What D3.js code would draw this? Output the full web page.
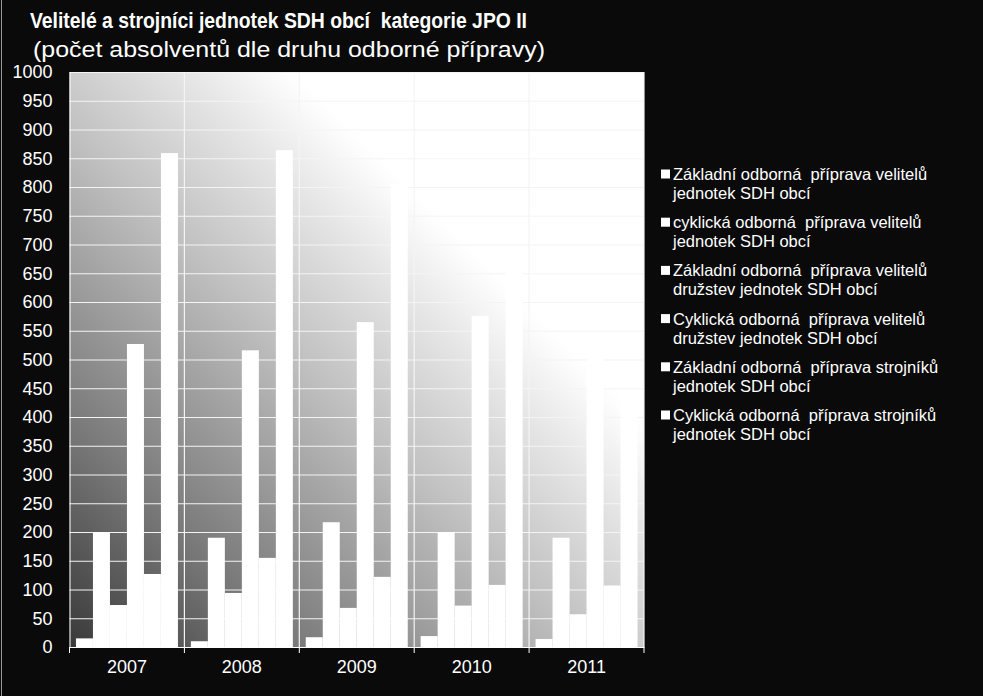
<!DOCTYPE html>
<html>
<head>
<meta charset="utf-8">
<script src="https://cdn.jsdelivr.net/npm/d3@7"></script>
<style>
  html, body { margin: 0; padding: 0; background: #0a0a0a; }
  svg { display: block; }
  text { font-family: Arial, "Liberation Sans", sans-serif; fill: #ffffff; white-space: pre; }
</style>
</head>
<body>
<svg id="chart" width="983" height="696"></svg>
<script>
// ---- data ----
const years = ["2007", "2008", "2009", "2010", "2011"];
const seriesNames = [
  ["Základní odborná  příprava velitelů", "jednotek SDH obcí"],
  ["cyklická odborná  příprava velitelů", "jednotek SDH obcí"],
  ["Základní odborná  příprava velitelů", "družstev jednotek SDH obcí"],
  ["Cyklická odborná  příprava velitelů", "družstev jednotek SDH obcí"],
  ["Základní odborná  příprava strojníků", "jednotek SDH obcí"],
  ["Cyklická odborná  příprava strojníků", "jednotek SDH obcí"]
];
const s1 = [15, 10, 17, 19, 14];
const s2 = [200, 190, 217, 200, 190];
const s3 = [73, 94, 68, 72, 57];
const s4 = [527, 516, 565, 576, 545];
const s5 = [127, 155, 122, 108, 107];
const s6 = [859, 864, 805, 690, 440];
const series = [s1, s2, s3, s4, s5, s6];
const yTicks = d3.range(0, 1001, 50);
const titleText = "Velitelé a strojníci jednotek SDH obcí  kategorie JPO II";
const subtitleText = "(počet absolventů dle druhu odborné přípravy)";

// ---- layout ----
const svg = d3.select("#chart");
const W = 983, H = 696;
const plot = { left: 69.5, right: 644, top: 72, bottom: 647 };

svg.append("rect").attr("width", W).attr("height", H).attr("fill", "#0a0a0a");
svg.append("line").attr("x1", 1.5).attr("x2", 1.5).attr("y1", 0).attr("y2", H)
  .attr("stroke", "#9a9a9a").attr("stroke-width", 1);

const defs = svg.append("defs");
const grad = defs.append("linearGradient").attr("id", "bg")
  .attr("x1", 0).attr("y1", 1).attr("x2", 1).attr("y2", 0);
[[0, "#393939"], [0.2, "#7a7a7a"], [0.45, "#c0c0c0"], [0.6, "#e6e6e6"], [0.685, "#fdfdfd"], [0.7, "#ffffff"], [1, "#ffffff"]]
  .forEach(([o, c]) => grad.append("stop").attr("offset", o).attr("stop-color", c));

const x0 = d3.scaleBand().domain(years).range([plot.left, plot.right]).padding(0);
const x1 = d3.scaleBand().domain(d3.range(series.length))
  .range([0, x0.bandwidth()]).paddingInner(0).paddingOuter(0.38);
const y = d3.scaleLinear().domain([0, 1000]).range([plot.bottom, plot.top]);

svg.append("rect")
  .attr("x", plot.left).attr("y", plot.top)
  .attr("width", plot.right - plot.left).attr("height", plot.bottom - plot.top)
  .attr("fill", "url(#bg)");

// horizontal gridlines + y labels
const yAxis = d3.axisLeft(y).tickValues(yTicks).tickFormat(d3.format("d"))
  .tickSize(-(plot.right - plot.left)).tickPadding(17);
const gy = svg.append("g").attr("transform", `translate(${plot.left},0)`).call(yAxis);
gy.select(".domain").attr("stroke", "#ffffff");
gy.selectAll(".tick line").attr("stroke", "#f4f4f4").attr("stroke-width", 1.2);
gy.selectAll(".tick text").attr("fill", "#ffffff").style("font-size", "18px")
  .attr("font-family", "Arial, 'Liberation Sans', sans-serif");

// vertical category lines
const bounds = years.map(d => x0(d)).concat([plot.right]);
svg.append("g").selectAll("line").data(bounds.slice(1)).join("line")
  .attr("x1", d => d).attr("x2", d => d).attr("y1", plot.top).attr("y2", plot.bottom)
  .attr("stroke", "#f4f4f4").attr("stroke-width", 1.2);

// bars
const groups = svg.append("g").selectAll("g").data(years).join("g")
  .attr("transform", d => `translate(${x0(d)},0)`);
groups.selectAll("rect").data((d, i) => series.map((s, k) => ({ k, v: s[i] }))).join("rect")
  .attr("x", d => x1(d.k)).attr("width", x1.bandwidth())
  .attr("y", d => y(d.v)).attr("height", d => y(0) - y(d.v))
  .attr("fill", "#ffffff");

// x axis
const xAxis = d3.axisBottom(x0).tickSize(0).tickPadding(13);
const gx = svg.append("g").attr("transform", `translate(0,${plot.bottom})`).call(xAxis);
gx.select(".domain").attr("stroke", "#ffffff");
gx.selectAll(".tick text").attr("fill", "#ffffff").style("font-size", "18px")
  .attr("font-family", "Arial, 'Liberation Sans', sans-serif");
svg.append("g").selectAll("line").data(bounds).join("line")
  .attr("x1", d => d).attr("x2", d => d).attr("y1", plot.bottom).attr("y2", plot.bottom + 6)
  .attr("stroke", "#ffffff");

// titles
svg.append("text").attr("x", 30).attr("y", 28).text(titleText)
  .style("font-size", "22px").style("font-weight", "bold")
  .attr("textLength", 497).attr("lengthAdjust", "spacingAndGlyphs");
svg.append("text").attr("x", 33).attr("y", 57).text(subtitleText)
  .style("font-size", "22px")
  .attr("textLength", 512).attr("lengthAdjust", "spacingAndGlyphs");

// legend
const leg = svg.append("g").selectAll("g").data(seriesNames).join("g")
  .attr("transform", (d, i) => `translate(661,${174 + i * 48.2})`);
leg.append("rect").attr("x", 0).attr("y", -4.5).attr("width", 9).attr("height", 9).attr("fill", "#ffffff");
leg.append("text").attr("x", 12).attr("y", 6).text(d => d[0]).style("font-size", "16.5px");
leg.append("text").attr("x", 12).attr("y", 25).text(d => d[1]).style("font-size", "16.5px");
</script>
</body>
</html>
